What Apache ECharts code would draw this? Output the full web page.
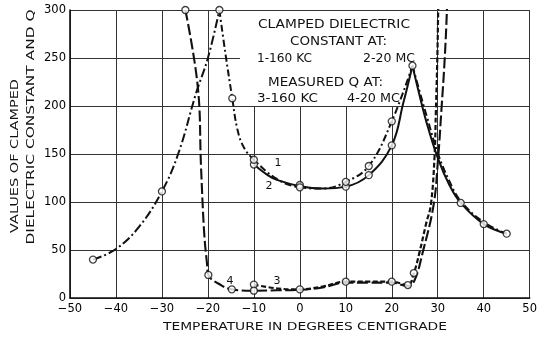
<!DOCTYPE html>
<html>
<head>
<meta charset="utf-8">
<script src="https://cdn.jsdelivr.net/npm/echarts@6/dist/echarts.min.js"></script>
<style>
  html, body { margin: 0; padding: 0; background: #fff; }
  #chart { width: 540px; height: 337px; }
</style>
</head>
<body>
<div id="chart"></div>
<script>
// axis ticks
const xTicks = [-50, -40, -30, -20, -10, 0, 10, 20, 30, 40, 50];
const yTicks = [0, 50, 100, 150, 200, 250, 300];

// curve 1 - clamped dielectric constant at 160 KC (solid)
const c1Rise = [[-10,139],[-7,128],[-5,123],[0,116.5],[5,114],[10,116],[15,128],[20,159],[22.5,203],[24.5,242]];
const c1Fall = [[24.5,242],[26,212],[27.5,184],[30,146],[32.5,118],[35,99],[40,77],[45,67]];
const c1Pts = [[-10,139],[0,117.7],[10,116],[15,128],[20,159],[24.5,242],[35,99],[40,77],[45,67]];

// curve 2 - clamped dielectric constant at 20 MC (dash-dot)
const c2Left = [[-45,40],[-40,51],[-35,74],[-30,111],[-26.4,151],[-22.6,213],[-20,250],[-17.5,300]];
const c2Mid = [[-17.5,300],[-16.2,255],[-14.7,208],[-13.6,176],[-12.2,157],[-10,144],[-5,124],[0,115.3],[5,114],[10,121],[15,137.5],[20,184],[24.5,242]];
const c2Fall = [[24.5,242],[26,216],[27.5,191],[30,151],[32.5,122],[35,101],[40,79],[45,67]];
const c2Pts = [[-45,40],[-30,111],[-17.5,300],[-14.7,208],[-10,144],[0,115.3],[10,121],[15,137.5],[20,184]];

// curve 3 - measured Q at 160 KC (short dash)
const c3Line = [[-10,14],[-5,10],[0,9],[5,12],[10,17],[15,17],[20,17],[23.5,13.5],[24.8,26],[26,47],[27.5,78],[28.5,97],[29.3,147],[29.6,196],[29.9,248],[30.1,300],[30.2,320]];
const c3Pts = [[-10,14],[0,9],[10,17],[20,17],[23.5,13.5],[24.8,26]];

// curve 4 - measured Q at 20 MC (long dash)
const c4Line = [[-24.9,300],[-22.2,220],[-21.5,137],[-20.8,67],[-20.2,36],[-19.9,24],[-17,13],[-14.8,9],[-10,7.6],[-5,8],[0,8.5],[5,11],[10,16],[15,16],[20,16],[23.5,12.5],[25,19],[26.7,47],[29.1,97],[30.1,147],[30.8,196],[31.5,248],[32,300],[32.1,320]];
const c4Pts = [[-24.9,300],[-19.9,24],[-14.8,9],[-10,7.6]];

const INK = '#111';
const FONT = 'DejaVu Sans';

// measure text so the wide lettering of the original can be matched by stretching
const measureCtx = document.createElement('canvas').getContext('2d');
function textWidth(text, size) {
  measureCtx.font = size + 'px "' + FONT + '"';
  return measureCtx.measureText(text).width;
}

function curve(data, dash, width) {
  return {
    type: 'line', data: data, smooth: 0.4,
    showSymbol: false, clip: true, z: 2,
    lineStyle: { color: INK, width: width, type: dash }
  };
}
function circles(data) {
  return {
    type: 'scatter', data: data, symbol: 'circle', symbolSize: 7, clip: false, z: 4,
    itemStyle: { color: '#fff', borderColor: INK, borderWidth: 1.3 }
  };
}
function label(text, x, y, size, width, align, rot) {
  const sx = width ? width / textWidth(text, size) : 1;
  return {
    type: 'text', x: x, y: y, scaleX: sx, rotation: rot || 0, z: 5,
    style: {
      text: text, fontSize: size, fontFamily: FONT, fill: INK,
      align: align || 'center', textAlign: align || 'center',
      verticalAlign: 'middle', textVerticalAlign: 'middle'
    }
  };
}

const chart = echarts.init(document.getElementById('chart'), null, { renderer: 'canvas' });
chart.setOption({
  animation: false,
  backgroundColor: '#fff',
  grid: { left: 70, right: 3, top: 10, bottom: 39 },
  xAxis: {
    type: 'value', min: xTicks[0], max: xTicks[xTicks.length - 1], interval: 10,
    axisLine: { show: true, onZero: false, lineStyle: { color: INK, width: 1.6 } },
    axisTick: { show: false },
    splitLine: { show: true, lineStyle: { color: '#333', width: 1 } },
    axisLabel: {
      color: '#000', fontFamily: FONT, fontSize: 11.5, margin: 5,
      formatter: v => (v < 0 ? '\u2212' + (-v) : '' + v)
    }
  },
  yAxis: {
    type: 'value', min: yTicks[0], max: yTicks[yTicks.length - 1], interval: 50,
    axisLine: { show: true, onZero: false, lineStyle: { color: INK, width: 1.6 } },
    axisTick: { show: false },
    splitLine: { show: true, lineStyle: { color: '#333', width: 1 } },
    axisLabel: { color: '#000', fontFamily: FONT, fontSize: 11.5, margin: 4 }
  },
  graphic: [
    // white panel behind the key text
    { type: 'rect', shape: { x: 240, y: 11, width: 190, height: 95 }, style: { fill: '#fff' }, z: 1 },
    label('CLAMPED DIELECTRIC', 258, 25, 12.5, 152, 'left'),
    label('CONSTANT AT:', 290, 42, 12.5, 97, 'left'),
    label('1-160 KC', 257, 59, 12.5, 55, 'left'),
    label('2-20 MC', 363, 59, 12.5, 52, 'left'),
    label('MEASURED Q AT:', 268, 83, 12.5, 115, 'left'),
    label('3-160 KC', 257, 99, 12.5, 61, 'left'),
    label('4-20 MC', 347, 99, 12.5, 53, 'left'),
    label('1', 278, 163, 11),
    label('2', 269, 186, 11),
    label('3', 277, 281, 11),
    label('4', 230, 281, 11),
    label('TEMPERATURE IN DEGREES CENTIGRADE', 163, 327, 10.5, 284, 'left'),
    label('VALUES OF CLAMPED', 15, 156, 11, 154, 'center', Math.PI / 2),
    label('DIELECTRIC CONSTANT AND Q', 31, 127, 11, 235, 'center', Math.PI / 2)
  ],
  series: [
    curve(c1Rise, 'solid', 2),
    curve(c1Fall, 'solid', 2),
    curve(c2Left, [9, 3, 2, 3], 2),
    curve(c2Mid, [7, 3, 2, 3], 2),
    curve(c2Fall, [7, 3, 2, 3], 2),
    curve(c3Line, [5, 2.5], 2.2),
    curve(c4Line, [11, 3.5], 2.1),
    circles(c1Pts),
    circles(c2Pts),
    circles(c3Pts),
    circles(c4Pts)
  ]
});
</script>
</body>
</html>
